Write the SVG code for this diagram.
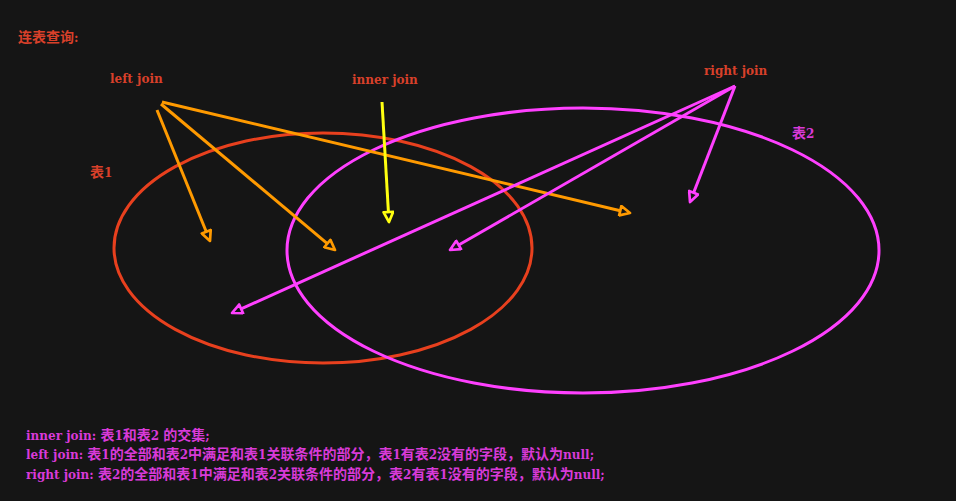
<svg xmlns="http://www.w3.org/2000/svg" width="956" height="501" viewBox="0 0 956 501">
<defs>
<style>
text{font-family:"DejaVu Serif","Noto Sans CJK SC",serif;font-weight:bold;font-size:12px}
.cj{font-family:"Noto Sans CJK SC",sans-serif;font-size:14px}
.red{fill:#d8402a}
.mag{fill:#d83ad8}
.c-o{stroke:#ff9a00;stroke-width:3;fill:none}
.c-y{stroke:#ffff10;stroke-width:3;fill:none}
.c-m{stroke:#ff40ff;stroke-width:3;fill:none}
</style>
<marker id="ao" viewBox="0 0 14 12" refX="2" refY="6" markerWidth="14" markerHeight="12" markerUnits="userSpaceOnUse" orient="auto"><path d="M2,1.2 L12,6 L2,10.8 Z" fill="none" stroke="#ff9a00" stroke-width="2.7" stroke-linejoin="round"/></marker>
<marker id="ay" viewBox="0 0 14 12" refX="2" refY="6" markerWidth="14" markerHeight="12" markerUnits="userSpaceOnUse" orient="auto"><path d="M2,1.2 L12,6 L2,10.8 Z" fill="none" stroke="#ffff10" stroke-width="2.7" stroke-linejoin="round"/></marker>
<marker id="am" viewBox="0 0 14 12" refX="2" refY="6" markerWidth="14" markerHeight="12" markerUnits="userSpaceOnUse" orient="auto"><path d="M2,1.2 L12,6 L2,10.8 Z" fill="none" stroke="#ff40ff" stroke-width="2.7" stroke-linejoin="round"/></marker>
</defs>
<rect width="956" height="501" fill="#151515"/>
<g id="table1">
<ellipse cx="323" cy="248" rx="209" ry="115" fill="none" stroke="#e8401e" stroke-width="3"/>
<text x="90" y="177" class="red"><tspan class="cj">表</tspan>1</text>
</g>
<g id="table2">
<ellipse cx="583" cy="250.5" rx="296" ry="142.5" fill="none" stroke="#ff40ff" stroke-width="3"/>
<text x="792" y="138" class="mag"><tspan class="cj">表</tspan>2</text>
</g>
<g id="title"><text x="18" y="42" class="red"><tspan class="cj">连表查询</tspan>:</text></g>
<g id="left-join"><text x="110" y="83" class="red">left join</text></g>
<g id="inner-join"><text x="352" y="84" class="red">inner join</text></g>
<g id="right-join"><text x="704" y="75" class="red">right join</text></g>
<g id="connectors">
<line x1="157" y1="110" x2="206.25" y2="231.73" class="c-o" marker-end="url(#ao)"/>
<line x1="161" y1="104" x2="327.34" y2="243.57" class="c-o" marker-end="url(#ao)"/>
<line x1="162" y1="102" x2="620.27" y2="210.69" class="c-o" marker-end="url(#ao)"/>
<line x1="382" y1="102" x2="388.42" y2="212.02" class="c-y" marker-end="url(#ay)"/>
<line x1="735" y1="86" x2="241.12" y2="308.89" class="c-m" marker-end="url(#am)"/>
<line x1="735" y1="86" x2="458.67" y2="245.01" class="c-m" marker-end="url(#am)"/>
<line x1="735" y1="86" x2="693.62" y2="192.68" class="c-m" marker-end="url(#am)"/>
</g>
<g id="notes">
<text x="26" y="440" class="mag">inner join: <tspan class="cj">表</tspan>1<tspan class="cj">和表</tspan>2 <tspan class="cj">的交集</tspan>;</text>
<text x="26" y="459" class="mag">left join: <tspan class="cj">表</tspan>1<tspan class="cj">的全部和表</tspan>2<tspan class="cj">中满足和表</tspan>1<tspan class="cj">关联条件的部分，表</tspan>1<tspan class="cj">有表</tspan>2<tspan class="cj">没有的字段，默认为</tspan>null;</text>
<text x="26" y="479" class="mag">right join: <tspan class="cj">表</tspan>2<tspan class="cj">的全部和表</tspan>1<tspan class="cj">中满足和表</tspan>2<tspan class="cj">关联条件的部分，表</tspan>2<tspan class="cj">有表</tspan>1<tspan class="cj">没有的字段，默认为</tspan>null;</text>
</g>
</svg>
